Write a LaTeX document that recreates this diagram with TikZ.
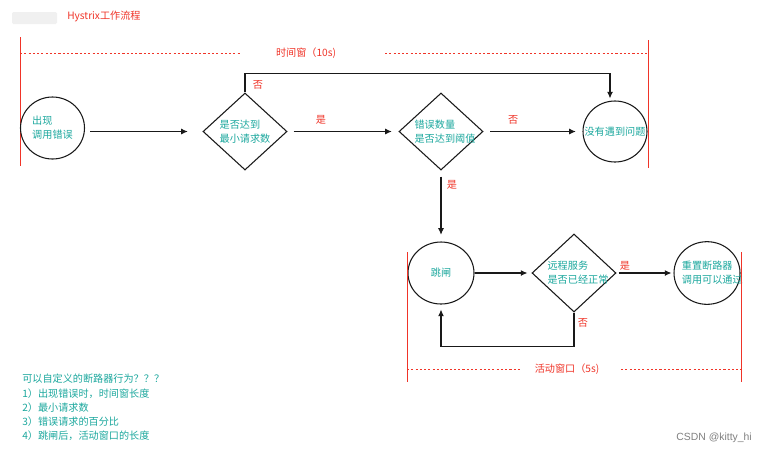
\documentclass[tikz,border=0pt]{standalone}
\usepackage{fontspec}
\setmainfont{Noto Sans CJK SC}
\newfontfamily\latinfont{Liberation Sans}
\usetikzlibrary{shapes.geometric,arrows.meta}
\definecolor{flowred}{RGB}{240,52,40}
\definecolor{flowteal}{RGB}{28,168,158}
\definecolor{flowline}{RGB}{25,25,25}

\begin{document}
\begin{tikzpicture}[x=0.75pt,y=-0.75pt,
  every node/.style={font=\fontsize{7.6}{10.5}\selectfont},
  lbl/.style={text=flowteal,align=left,inner sep=0pt},
  redtxt/.style={text=flowred,inner sep=0pt},
  state/.style={draw=flowline,line width=0.8pt,ellipse,inner sep=0pt},
  test/.style={draw=flowline,line width=0.8pt,diamond,inner sep=0pt,minimum width=63pt,minimum height=57.75pt},
  flow/.style={draw=flowline,line width=0.8pt,-{Latex[length=5pt,width=4.5pt]}},
  bound/.style={draw=flowred,line width=1pt},
  window/.style={draw=flowred,line width=0.75pt,dash pattern=on 1.6pt off 1.6pt}
]
\useasboundingbox (0,0) rectangle (767,455);
\fill[white] (0,0) rectangle (767,455);

% header
\fill[black!6,rounded corners=1pt] (12,12) rectangle (57,24);
\node[redtxt,anchor=west] (title) at (67,16.5) {Hystrix工作流程};

% time window (10s)
\draw[bound] (20.5,37) -- (20.5,166);
\draw[bound] (648.5,40) -- (648.5,168);
\node[redtxt] (tw) at (306,53) {时间窗（10s)};
\draw[window] (20,53.5) -- (240,53.5);
\draw[window] (385,53.5) -- (648,53.5);

% first row
\node[state,minimum width=48pt,minimum height=46.5pt,
      label={[lbl]center:出现\\调用错误}] (c1) at (52.5,128) {};
\node[test,label={[lbl]center:是否达到\\最小请求数}] (d1) at (245,131.5) {};
\node[test,label={[lbl,xshift=3pt]center:错误数量\\是否达到阈值}] (d2) at (441,131.5) {};
\node[state,minimum width=48pt,minimum height=45.75pt,
      label={[lbl]center:没有遇到问题}] (c3) at (615,131.5) {};

\draw[flow,shorten <=3.75pt,shorten >=11pt] (c1.east |- d1.west) -- (d1.west);
\draw[flow,shorten <=4.5pt,shorten >=5pt] (d1.east) -- (d2.west)
  node[redtxt,pos=0.3,above=5pt] {是};
\draw[flow,shorten <=5pt,shorten >=5pt] (d2.east) -- (c3.west)
  node[redtxt,pos=0.3,above=5pt] {否};
\draw[flow,shorten >=1.5pt] (d1.north) -- ++(0,-19) coordinate (topleft)
  -| ([xshift=-3.75pt]c3.north);
\node[redtxt] (no1) at (258,85) {否};

% second row
\node[state,minimum width=49.5pt,minimum height=46.5pt,
      label={[lbl]center:跳闸}] (c4) at (441,273) {};
\node[test,minimum height=58.5pt,label={[lbl,xshift=3pt]center:远程服务\\是否已经正常}] (d3) at (574,273) {};
\node[state,minimum width=49.5pt,minimum height=47pt,
      label={[lbl,xshift=4pt]center:重置断路器\\调用可以通过}] (c5) at (707,273) {};

\draw[flow,shorten <=4.5pt,shorten >=5pt] (d2.south) -- (c4.north);
\node[redtxt] (yes2) at (452,185) {是};
\draw[flow,shorten >=3pt] (c4.east) -- (d3.west);
\draw[flow,shorten <=1.5pt,shorten >=1.5pt] (d3.east) -- (c5.west);
\node[redtxt] (yes3) at (625,266) {是};
\draw[flow,shorten >=3.75pt] (d3.south) -- ++(0,34) coordinate (loopcorner)
  -| (c4.south);
\node[redtxt] (no3) at (583,323) {否};

% active window (5s)
\draw[bound] (407.5,252) -- (407.5,382);
\draw[bound] (741.5,252) -- (741.5,382);
\node[redtxt] (aw) at (567,369) {活动窗口（5s)};
\draw[window] (407,369.5) -- (520,369.5);
\draw[window] (621,369.5) -- (741,369.5);

% notes
\node[lbl,anchor=west] (n0) at (22,378.5) {可以自定义的断路器行为？？？};
\node[lbl,anchor=west] (n1) at (22,393.5) {1）出现错误时，时间窗长度};
\node[lbl,anchor=west] (n2) at (22,407.5) {2）最小请求数};
\node[lbl,anchor=west] (n3) at (22,421.5) {3）错误请求的百分比};
\node[lbl,anchor=west] (n4) at (22,436) {4）跳闸后，活动窗口的长度};

% watermark
\node[text=black!50,anchor=east,inner sep=0pt,font=\latinfont\fontsize{7.8}{9}\selectfont] (mark) at (752,437.5) {CSDN @kitty\_hi};
\end{tikzpicture}
\end{document}
